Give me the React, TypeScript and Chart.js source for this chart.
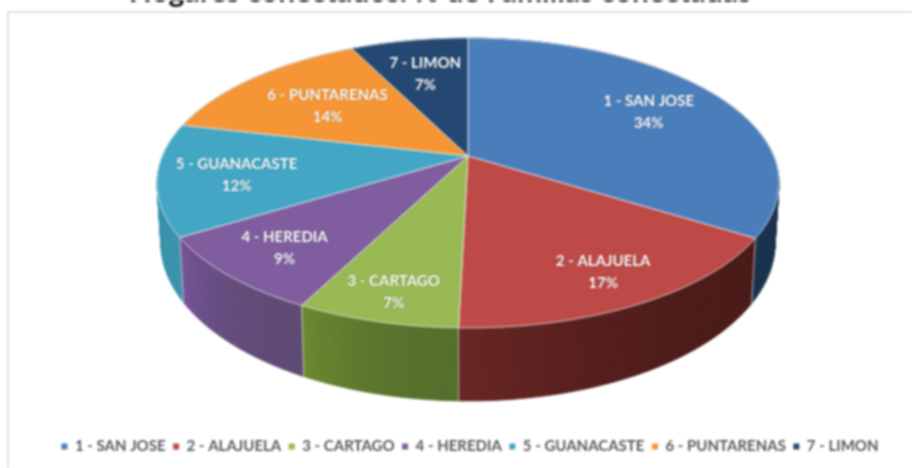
import React, { useEffect, useRef } from "react";
import { Chart, registerables } from "chart.js";

Chart.register(...registerables);

const categories = ["1 - SAN JOSE", "2 - ALAJUELA", "3 - CARTAGO", "4 - HEREDIA", "5 - GUANACASTE", "6 - PUNTARENAS", "7 - LIMON"];
const shares = [33.9, 16.5, 7.1, 8.7, 12.49, 14.0, 7.31];
const titleText = "Hogares conectados: % de Familias conectadas";

const topColors = ["#4a7ebb", "#bd4a47", "#98b954", "#7f5d9e", "#42a6c4", "#f59535", "#244872"];
const wallStart = ["#18324e", "#491a18", "#55702c", "#5f4a74", "#3a93ab", "#3a93ab", "#18324e"];
const wallEnd = ["#18324e", "#6a2624", "#6b8a30", "#75549a", "#2f8096", "#3a93ab", "#18324e"];
const labelReach = [0.72, 0.81, 0.84, 0.79, 0.75, 0.63, 0.69];

// Perspective of the tilted disc
const CX = 468, A = 110.9, B = 156, C = -0.186, D = 305.6;
const rimPoint = (t: number, r = 1) => {
  const u = r * Math.sin(t), v = -r * Math.cos(t), den = 1 + C * v;
  return { x: CX + (D * u) / den, y: (A * v + B) / den, v };
};
const basePoint = (t: number) => {
  const p = rimPoint(t);
  return { x: CX + (p.x - CX) * 0.987, y: 1.089 * p.y + 43.8 };
};
const hex = (c: string) => [1, 3, 5].map((i) => parseInt(c.slice(i, i + 2), 16));
const mix = (a: string, b: string, f: number) => {
  const x = hex(a), y = hex(b);
  return `rgb(${x.map((n, i) => Math.round(n + (y[i] - n) * f)).join(",")})`;
};

const pie3d = {
  id: "pie3d",
  beforeDraw(chart: any) {
    const { ctx } = chart;
    ctx.save();
    ctx.strokeStyle = "#e1e1e1";
    ctx.lineWidth = 2;
    ctx.beginPath();
    ctx.moveTo(8, 468);
    ctx.lineTo(8, 12);
    ctx.lineTo(912, 12);
    ctx.stroke();
    ctx.fillStyle = "#10131f";
    ctx.font = "bold 30px Lato";
    ctx.textAlign = "center";
    ctx.textBaseline = "alphabetic";
    ctx.fillText(titleText, 440, 2);
    ctx.restore();
  },
  beforeDatasetDraw(chart: any) {
    const { ctx } = chart;
    const arcs = chart.getDatasetMeta(0).data;
    const step = Math.PI / 180;
    const spans = arcs.map((a: any) => [a.startAngle + Math.PI / 2, a.endAngle + Math.PI / 2]);
    const quads: any[] = [];
    spans.forEach(([s, e]: number[], i: number) => {
      const n = Math.max(1, Math.ceil((e - s) / step));
      for (let k = 0; k < n; k++) {
        const t0 = s + ((e - s) * k) / n, t1 = s + ((e - s) * (k + 1)) / n;
        const f = (k + 0.5) / n;
        quads.push({ t0, t1, color: mix(wallStart[i], wallEnd[i], f * f), v: rimPoint((t0 + t1) / 2).v });
      }
    });
    quads.sort((a, b) => a.v - b.v);
    ctx.save();
    ctx.lineWidth = 1;
    quads.forEach((q) => {
      const a = rimPoint(q.t0), b = rimPoint(q.t1), c = basePoint(q.t1), d = basePoint(q.t0);
      ctx.beginPath();
      ctx.moveTo(a.x, a.y);
      ctx.lineTo(b.x, b.y);
      ctx.lineTo(c.x, c.y);
      ctx.lineTo(d.x, d.y);
      ctx.closePath();
      ctx.fillStyle = q.color;
      ctx.strokeStyle = q.color;
      ctx.fill();
      ctx.stroke();
    });
    ctx.strokeStyle = "rgba(225,225,225,0.75)";
    spans.forEach(([s]: number[]) => {
      const a = rimPoint(s), d = basePoint(s);
      if (a.v < 0) return;
      ctx.beginPath();
      ctx.moveTo(a.x, a.y);
      ctx.lineTo(d.x, d.y);
      ctx.stroke();
    });
    spans.forEach(([s, e]: number[], i: number) => {
      ctx.beginPath();
      ctx.moveTo(CX, B);
      const n = Math.max(1, Math.ceil((e - s) / step));
      for (let k = 0; k <= n; k++) {
        const p = rimPoint(s + ((e - s) * k) / n);
        ctx.lineTo(p.x, p.y);
      }
      ctx.closePath();
      ctx.fillStyle = topColors[i];
      ctx.fill();
      ctx.strokeStyle = "rgba(235,235,235,0.8)";
      ctx.lineWidth = 1;
      ctx.stroke();
    });
    const total = shares.reduce((x, y) => x + y, 0);
    ctx.font = "bold 15px Lato";
    ctx.textAlign = "center";
    ctx.textBaseline = "middle";
    ctx.shadowColor = "rgba(0,0,0,0.45)";
    ctx.shadowBlur = 1.5;
    ctx.fillStyle = "#ffffff";
    spans.forEach(([s, e]: number[], i: number) => {
      const p = rimPoint((s + e) / 2, labelReach[i]);
      ctx.fillText(categories[i], p.x, p.y - 9.5);
      ctx.fillText(`${Math.round(+((shares[i] / total) * 100).toFixed(3))}%`, p.x, p.y + 12.5);
    });
    ctx.restore();
    return false;
  },
};

export default function App() {
  const ref = useRef<HTMLCanvasElement>(null);
  useEffect(() => {
    const chart = new Chart(ref.current!, {
      type: "pie",
      data: {
        labels: categories,
        datasets: [{ data: shares, backgroundColor: topColors, borderWidth: 0 }],
      },
      options: {
        animation: false,
        responsive: false,
        events: [],
        layout: { padding: { left: 28, bottom: 4 } },
        plugins: {
          title: { display: false },
          tooltip: { enabled: false },
          legend: {
            position: "bottom",
            labels: {
              usePointStyle: true,
              pointStyle: "rect",
              boxWidth: 6,
              boxHeight: 6,
              padding: 7.5,
              color: "#595959",
              font: { family: "Lato", size: 15, weight: "bold" },
            },
          },
        },
      },
      plugins: [pie3d],
    } as any);
    return () => chart.destroy();
  }, []);
  return (
    <div style={{ position: "fixed", left: 0, top: 0, width: 912, height: 468, background: "#fff", overflow: "hidden" }}>
      <canvas ref={ref} width={912} height={468} style={{ display: "block", filter: "blur(0.8px)" }} />
    </div>
  );
}
